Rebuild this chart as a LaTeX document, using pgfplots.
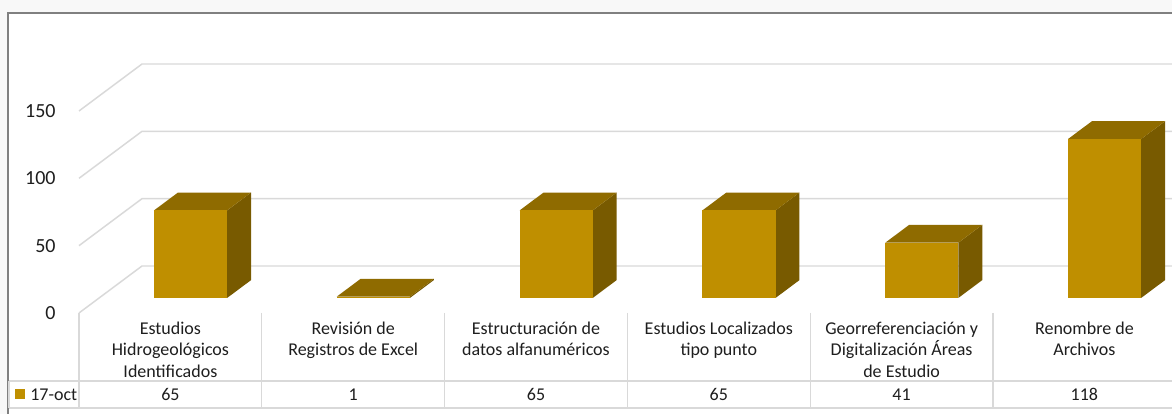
\documentclass[border=0pt]{standalone}
\usepackage{pgfplots}
\pgfplotsset{compat=1.18}
\usepackage{fontspec}
\setmainfont{Carlito}

\definecolor{FRONT}{RGB}{191,143,0}
\definecolor{TOP}{RGB}{143,107,0}
\definecolor{SIDE}{RGB}{120,90,0}
\definecolor{GRIDC}{RGB}{217,217,217}
\definecolor{FRAME}{RGB}{128,128,128}
\definecolor{TXT}{RGB}{30,30,30}
\definecolor{BG}{RGB}{248,248,248}

% one 3D column: left x, right x, value (depth 0.32 .. 0.70)
\newcommand\cube[3]{%
  \addplot3[fill=SIDE, draw=none] coordinates {(#2,0.32,0) (#2,0.70,0) (#2,0.70,#3) (#2,0.32,#3)} -- cycle;
  \addplot3[fill=TOP, draw=none] coordinates {(#1,0.32,#3) (#2,0.32,#3) (#2,0.70,#3) (#1,0.70,#3)} -- cycle;
  \addplot3[fill=FRONT, draw=none] coordinates {(#1,0.32,0) (#2,0.32,0) (#2,0.32,#3) (#1,0.32,#3)} -- cycle;
}

\begin{document}
\begin{tikzpicture}[x=0.75pt, y=0.75pt]
% page and frame (pixel grid, y up)
\useasboundingbox (0,0) rectangle (1172,414);
\fill[BG] (0,0) rectangle (1172,414);
\fill[white] (8,-5) rectangle (1180,401);
\draw[FRAME, line width=1.5pt] (8,-5) -- (8,401) -- (1180,401);

\begin{axis}[
  hide axis, clip=false,
  x={(137.1pt,0pt)}, y={(47.25pt,35.25pt)}, z={(0pt,1.01pt)},
  xmin=0, xmax=6, ymin=0, ymax=1, zmin=0, zmax=150,
  at={(59.25pt,75.75pt)}, anchor=origin,
]
% walls
\pgfplotsinvokeforeach{0,50,100,150}{
  \draw[GRIDC, line width=1.1pt] (axis cs:0,0,#1) -- (axis cs:0,1,#1) -- (axis cs:6.2,1,#1);
  \node[anchor=east, TXT, font=\fontsize{15}{18}\selectfont] at ([xshift=-14pt]axis cs:0,0,#1) {#1};
}
\cube{0.3}{0.7}{65}
\cube{1.3}{1.7}{1}
\cube{2.3}{2.7}{65}
\cube{3.3}{3.7}{65}
\cube{4.3}{4.7}{41}
\cube{5.3}{5.7}{118}
\end{axis}

% data table under the plot
\foreach \k in {0,...,6} {
  \draw[GRIDC, line width=0.9pt] ({79+182.8*\k},101) -- ({79+182.8*\k},6);
}
\draw[GRIDC, line width=0.9pt] (9,33) -- (1180,33);
\draw[GRIDC, line width=0.9pt] (9,6) -- (1180,6);
\draw[GRIDC, line width=0.9pt] (9,33) -- (9,6);

\begin{scope}[every node/.style={TXT, font=\fontsize{13.5}{16.3}\selectfont, align=center}]
\node[anchor=north] at (170.4,97) {Estudios\\Hidrogeológicos\\Identificados};
\node[anchor=north] at (353.2,97) {Revisión de\\Registros de Excel};
\node[anchor=north] at (536.0,97) {Estructuración de\\datos alfanuméricos};
\node[anchor=north] at (718.8,97) {Estudios Localizados\\tipo punto};
\node[anchor=north] at (901.6,97) {Georreferenciación y\\Digitalización Áreas\\de Estudio};
\node[anchor=north] at (1084.4,97) {Renombre de\\Archivos};
\node at (170.4,19.5) {65};
\node at (353.2,19.5) {1};
\node at (536.0,19.5) {65};
\node at (718.8,19.5) {65};
\node at (901.6,19.5) {41};
\node at (1084.4,19.5) {118};
\node[anchor=west, inner sep=0pt] at (30,19.5) {17-oct};
\end{scope}
\fill[FRONT] (15,15) rectangle (25,25);
\end{tikzpicture}
\end{document}
